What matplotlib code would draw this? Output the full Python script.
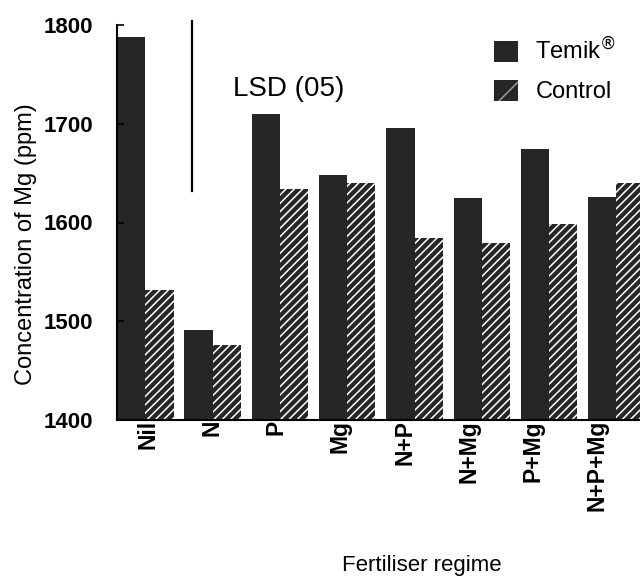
import numpy as np
import matplotlib.pyplot as plt
from matplotlib.patches import Patch

plt.rcParams['font.family'] = ['Liberation Sans', 'DejaVu Sans']
plt.rcParams['hatch.linewidth'] = 1.1

# fertiliser regimes and Mg concentration (ppm)
regimes = ['Nil', 'N', 'P', 'Mg', 'N+P', 'N+Mg', 'P+Mg', 'N+P+Mg']
temik = [1788, 1491, 1710, 1648, 1696, 1625, 1674, 1626]
control = [1532, 1476, 1634, 1640, 1584, 1579, 1598, 1640]

# LSD (0.05) bar
lsd_x = 0.69
lsd_low = 1632
lsd_high = 1804

dark = '#262626'

fig = plt.figure(figsize=(6.4, 5.77), dpi=100)
ax = fig.add_axes([117 / 640, 1 - 420 / 577, 523 / 640, 395 / 577])

x = np.arange(len(regimes))
w = 0.42
ax.bar(x - w / 2, temik, width=w, color=dark, linewidth=0)
ax.bar(x + w / 2, control, width=w, color=dark, edgecolor='white',
       linewidth=0, hatch='////')

ax.set_ylim(1400, 1800)
ax.set_xlim(-0.42, 7.35)

ax.spines['top'].set_visible(False)
ax.spines['right'].set_visible(False)
ax.spines['left'].set_linewidth(1.5)
ax.spines['bottom'].set_linewidth(1.5)

ax.set_yticks([1400, 1500, 1600, 1700, 1800])
ax.tick_params(axis='y', direction='in', length=5, width=1.2, labelsize=16,
               pad=17)
for t in ax.get_yticklabels():
    t.set_fontweight('bold')

ax.set_xticks(x * 0.953 + 0.04)
ax.set_xticklabels(regimes, rotation=90, fontsize=16.5, fontweight='bold',
                   va='top', ha='center')
ax.tick_params(axis='x', length=0, pad=0)

ax.set_ylabel('Concentration of Mg (ppm)', fontsize=17)
ax.yaxis.set_label_coords(-0.153, 0.445)
fig.text(422 / 640, 1 - 566 / 577, 'Fertiliser regime', fontsize=16,
         ha='center', va='center')

# LSD marker
ax.plot([lsd_x, lsd_x], [lsd_low, lsd_high], color='black', lw=1.6,
        clip_on=False)
ax.text(1.3, 1735, 'LSD (05)', fontsize=20, ha='left', va='center')

handles = [Patch(facecolor=dark, linewidth=0),
           Patch(facecolor=dark, edgecolor='#9a9a9a', linewidth=0, hatch='/')]
fig.legend(handles, ['Temik$^{®}$', 'Control'], loc='upper left',
           bbox_to_anchor=(494 / 640, 1 - 37 / 577), frameon=False,
           fontsize=17, handlelength=1.0, handleheight=1.0,
           handletextpad=0.75, labelspacing=0.65, borderpad=0,
           borderaxespad=0)

fig.savefig('out.png', dpi=100)
